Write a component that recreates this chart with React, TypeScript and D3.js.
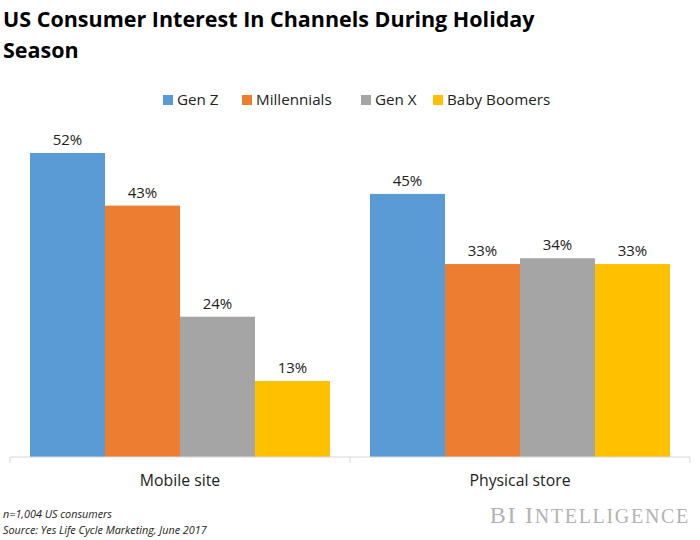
import React, {useEffect, useRef} from 'react';
import * as d3 from 'd3';

const categories = ['Mobile site', 'Physical store'];
const seriesNames = ['Gen Z', 'Millennials', 'Gen X', 'Baby Boomers'];
const genZ = [52, 45];
const millennials = [43, 33];
const genX = [24, 34];
const babyBoomers = [13, 33];
const colors = ['#5b9bd5', '#ed7d31', '#a5a5a5', '#ffc000'];

const width = 700;
const height = 540;

function App() {
    const ref = useRef<SVGSVGElement>(null);

    useEffect(() => {
        const svg = d3.select(ref.current);
        svg.selectAll('*').remove();

        const values = [genZ, millennials, genX, babyBoomers];
        const font = 'Open Sans, sans-serif';

        // title
        const title = svg.append('text')
            .attr('font-family', font)
            .attr('font-weight', 'bold')
            .attr('font-size', 21.5)
            .attr('fill', '#000');
        title.append('tspan').attr('x', 3).attr('y', 27)
            .text('US Consumer Interest In Channels During Holiday');
        title.append('tspan').attr('x', 3).attr('y', 58).text('Season');

        // legend
        const legendX = [163, 242, 361, 433];
        seriesNames.forEach((name, i) => {
            const g = svg.append('g').attr('transform', `translate(${legendX[i]}, 104)`);
            g.append('rect').attr('x', 0).attr('y', -9).attr('width', 10).attr('height', 10)
                .attr('fill', colors[i]);
            g.append('text').attr('x', 14).attr('y', 1)
                .attr('font-family', font).attr('font-size', 15.2).attr('fill', '#222')
                .text(name);
        });

        const x0 = d3.scaleBand().domain(categories).range([10, 690]).paddingInner(0).paddingOuter(0);
        const x1 = d3.scaleBand().domain(seriesNames).range([20, x0.bandwidth() - 20]).padding(0);
        const y = d3.scaleLinear().domain([0, 52]).range([457, 153]);

        const groups = svg.append('g').selectAll('g')
            .data(categories)
            .enter()
            .append('g')
            .attr('transform', (d) => `translate(${x0(d)}, 0)`);

        groups.each(function (cat, ci) {
            const g = d3.select(this);
            seriesNames.forEach((s, si) => {
                const v = values[si][ci];
                g.append('rect')
                    .attr('x', x1(s)!)
                    .attr('y', y(v))
                    .attr('width', x1.bandwidth())
                    .attr('height', y(0) - y(v))
                    .attr('fill', colors[si]);
                g.append('text')
                    .attr('x', x1(s)! + x1.bandwidth() / 2)
                    .attr('y', y(v) - 8)
                    .attr('text-anchor', 'middle')
                    .attr('font-family', font)
                    .attr('font-size', 15)
                    .attr('fill', '#222')
                    .text(`${v}%`);
            });
        });

        // axis
        const axis = svg.append('g').attr('transform', `translate(0, ${y(0)})`)
            .call(d3.axisBottom(x0).tickSize(0).tickFormat(() => ''));
        axis.select('.domain').remove();
        axis.append('line').attr('x1', 10).attr('x2', 690).attr('stroke', '#d9d9d9');
        const edges = [10, ...categories.map((c) => x0(c)! + x0.bandwidth())];
        edges.forEach((e) => {
            axis.append('line').attr('x1', e).attr('x2', e).attr('y1', 0).attr('y2', 6)
                .attr('stroke', '#d9d9d9');
        });
        categories.forEach((c) => {
            svg.append('text')
                .attr('x', x0(c)! + x0.bandwidth() / 2)
                .attr('y', 486)
                .attr('text-anchor', 'middle')
                .attr('font-family', font)
                .attr('font-size', 15.8)
                .attr('fill', '#222')
                .text(c);
        });

        // footnotes
        svg.append('text').attr('x', 3).attr('y', 518)
            .attr('font-family', font).attr('font-style', 'italic').attr('font-size', 10.8)
            .attr('fill', '#222').text('n=1,004 US consumers');
        svg.append('text').attr('x', 3).attr('y', 534)
            .attr('font-family', font).attr('font-style', 'italic').attr('font-size', 10.8)
            .attr('fill', '#222').text('Source: Yes Life Cycle Marketing, June 2017');

        const bi = svg.append('text').attr('x', 690).attr('y', 523)
            .attr('text-anchor', 'end')
            .attr('font-family', 'Liberation Serif, serif')
            .attr('fill', '#b3b3b3')
            .attr('letter-spacing', 1.7)
            .attr('font-size', 24);
        bi.append('tspan').text('BI I');
        bi.append('tspan').attr('font-size', 20).text('NTELLIGENCE');
    }, []);

    return (
        <svg ref={ref} width={width} height={height}
             style={{position: 'absolute', left: 0, top: 0, background: '#fff'}}/>
    );
}

export default App;
